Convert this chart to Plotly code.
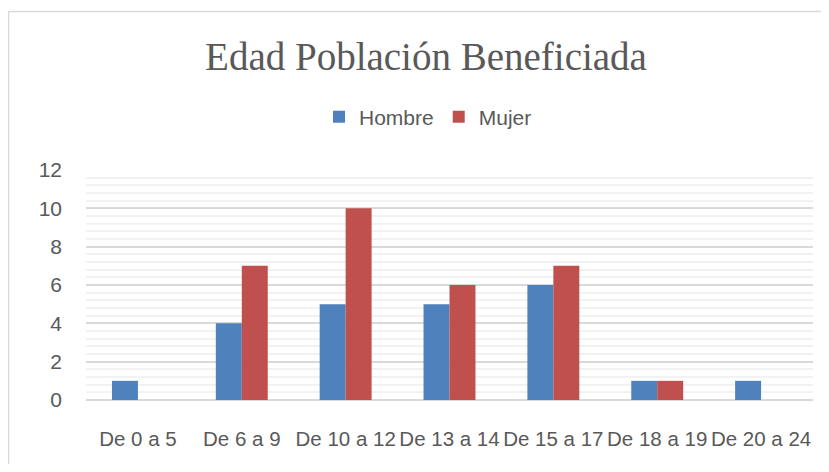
import plotly.graph_objects as go

categories = ["De 0 a 5", "De 6 a 9", "De 10 a 12", "De 13 a 14", "De 15 a 17", "De 18 a 19", "De 20 a 24"]
hombre = [1, 4, 5, 5, 6, 1, 1]
mujer = [None, 7, 10, 6, 7, 1, None]
y_ticks = [0, 2, 4, 6, 8, 10, 12]

# page body has an 8px margin, so the figure is placed at (8, 8)
OFF = 8
W, H = 829 - 2 * OFF, 472 - 2 * OFF
L, T = 86 - OFF, 170 - OFF
R = W - (813 - OFF)
B = H - (400 - OFF)
pw = W - L - R
ph = H - T - B

def px_x(x):
    return (x - OFF - L) / pw

def px_y(y):
    return (H - B - (y - OFF)) / ph

fig = go.Figure()
fig.add_trace(go.Bar(name="Hombre", x=categories, y=hombre, marker=dict(color="#4F81BD", line=dict(width=0))))
fig.add_trace(go.Bar(name="Mujer", x=categories, y=mujer, marker=dict(color="#C0504D", line=dict(width=0))))

gray = "#595959"
fig.update_layout(
    width=W, height=H,
    margin=dict(l=L, r=R, t=T, b=B, autoexpand=False),
    paper_bgcolor="white", plot_bgcolor="white",
    barmode="group", bargap=0.5, bargroupgap=0,
    title=dict(text="Edad Población Beneficiada", x=(426 - OFF) / W, xanchor="center",
               y=1 - (56 - OFF) / H, yanchor="middle",
               font=dict(family="Liberation Serif", size=39, color=gray)),
    legend=dict(orientation="h", x=px_x(428), xanchor="center", y=px_y(117), yanchor="middle",
                font=dict(family="Liberation Sans", size=21, color=gray),
                itemwidth=30, traceorder="normal", bgcolor="rgba(0,0,0,0)"),
    font=dict(family="Liberation Sans", size=21, color=gray),
    xaxis=dict(showgrid=False, showline=False, zeroline=False, ticks="", tickangle=0, automargin=False,
               tickfont=dict(family="Liberation Sans", size=20.5, color=gray),
               ticklabelstandoff=24),
    yaxis=dict(range=[0, 12], tickvals=y_ticks, showline=False, zeroline=True, automargin=False,
               zerolinecolor="#D9D9D9", zerolinewidth=1.5,
               gridcolor="#D9D9D9", gridwidth=1.5, ticks="",
               tickfont=dict(family="Liberation Sans", size=21, color=gray),
               ticklabelstandoff=23,
               minor=dict(dtick=0.4, showgrid=True, gridcolor="#F2F2F2", gridwidth=1.5)),
    showlegend=True,
)

# chart-area border (left and top edges visible)
fig.add_shape(type="line", xref="paper", yref="paper", x0=px_x(8.5), x1=px_x(8.5), y0=px_y(11.5), y1=px_y(480),
              line=dict(color="#D9D9D9", width=1.5))
fig.add_shape(type="line", xref="paper", yref="paper", x0=px_x(8.5), x1=px_x(840), y0=px_y(11.5), y1=px_y(11.5),
              line=dict(color="#D9D9D9", width=1.5))

fig.write_html("out.html")
